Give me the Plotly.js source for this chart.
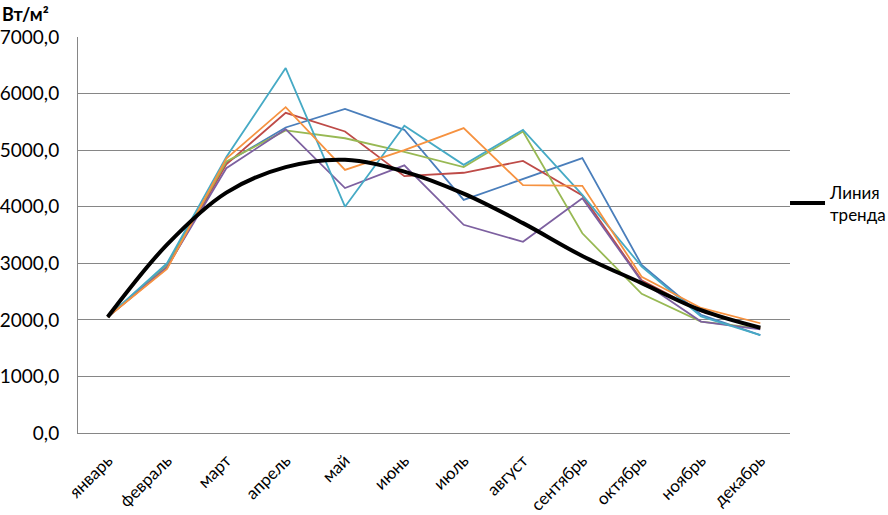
<!DOCTYPE html>
<html>
<head>
<meta charset="utf-8">
<script src="https://cdn.plot.ly/plotly-3.0.1.min.js"></script>
<style>html,body{margin:0;padding:0;background:#fff;}#chart{width:888px;height:515px;}</style>
</head>
<body>
<div id="chart"></div>
<script>
const months = ["январь","февраль","март","апрель","май","июнь","июль","август","сентябрь","октябрь","ноябрь","декабрь"];
const seriesBlue   = [2050, 2980, 4780, 5400, 5730, 5360, 4120, 4490, 4860, 2970, 2090, 1730];
const seriesRed    = [2050, 2920, 4750, 5660, 5330, 4540, 4600, 4810, 4200, 2700, 2150, 1850];
const seriesGreen  = [2050, 2950, 4800, 5350, 5210, 4970, 4700, 5330, 3530, 2460, 1970, 1850];
const seriesPurple = [2050, 2930, 4680, 5370, 4330, 4730, 3680, 3380, 4150, 2680, 1970, 1830];
const seriesTeal   = [2050, 3000, 4880, 6450, 4000, 5430, 4740, 5360, 4210, 2940, 2060, 1730];
const seriesOrange = [2050, 2900, 4850, 5760, 4650, 5000, 5390, 4380, 4370, 2760, 2210, 1940];
const trendValues  = [2050, 3330, 4250, 4700, 4830, 4620, 4230, 3710, 3130, 2650, 2170, 1860];
const trendName = "Линия<br>тренда";
const yTickVals = [0, 1000, 2000, 3000, 4000, 5000, 6000, 7000];

const colored = [
  [seriesBlue, "#4A7EBB"],
  [seriesRed, "#BE4B48"],
  [seriesGreen, "#98B954"],
  [seriesPurple, "#7D60A0"],
  [seriesTeal, "#46AAC5"],
  [seriesOrange, "#F69240"]
];
const data = colored.map(([v, c]) => ({
  x: months, y: v, type: "scatter", mode: "lines",
  line: {color: c, width: 1.8}, showlegend: false, hoverinfo: "skip"
}));
data.push({
  x: months, y: trendValues, type: "scatter", mode: "lines", name: trendName,
  line: {color: "#000000", width: 4, shape: "spline", smoothing: 1.0}, showlegend: true
});

const layout = {
  width: 888, height: 515,
  margin: {l: 78, r: 98, t: 37, b: 82, autoexpand: false},
  paper_bgcolor: "#fff", plot_bgcolor: "#fff",
  separators: ", ",
  font: {family: "Lato, 'Open Sans', sans-serif", color: "#000"},
  xaxis: {
    type: "category", tickangle: -45, automargin: false,
    tickfont: {family: "Lato, sans-serif", size: 17, color: "#000"},
    showgrid: false, showline: true, linecolor: "#868686", linewidth: 1,
    ticks: "", zeroline: false, range: [-0.5, 11.5], ticklabelstandoff: 10
  },
  yaxis: {
    range: [0, 7000], tickvals: yTickVals, tickformat: ".1f", automargin: false,
    tickfont: {family: "Lato, sans-serif", size: 19, color: "#000"},
    showgrid: true, gridcolor: "#868686", gridwidth: 1,
    showline: true, linecolor: "#868686", linewidth: 1,
    ticks: "", zeroline: false, ticklabelstandoff: 14
  },
  showlegend: true,
  legend: {
    x: 0.993, xanchor: "left", y: 0.58, yanchor: "middle",
    itemwidth: 35,
    font: {family: "Lato, sans-serif", size: 17, color: "#000"},
    bgcolor: "rgba(0,0,0,0)", borderwidth: 0
  },
  annotations: [{
    text: "<b>Вт/м²</b>", xref: "paper", yref: "paper", x: -0.1096, y: 1.0909,
    xanchor: "left", yanchor: "top", showarrow: false,
    font: {family: "Lato, sans-serif", size: 18, color: "#000"}
  }]
};
Plotly.newPlot("chart", data, layout, {displayModeBar: false, staticPlot: true});
</script>
</body>
</html>
